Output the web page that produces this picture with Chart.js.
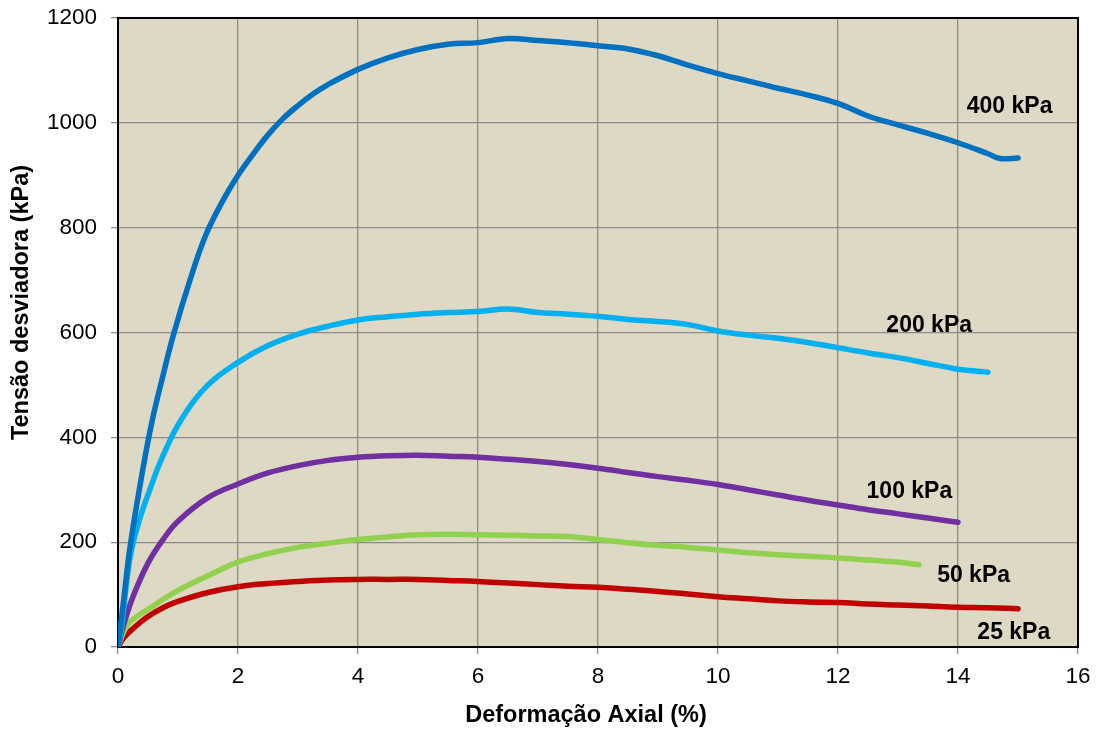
<!DOCTYPE html>
<html>
<head>
<meta charset="utf-8">
<script src="https://cdn.jsdelivr.net/npm/chart.js@4.4.1/dist/chart.umd.min.js"></script>
<style>
  html, body { margin: 0; padding: 0; background: #ffffff; }
  #wrap { width: 1100px; height: 731px; }
</style>
</head>
<body>
<div id="wrap"><canvas id="ensaio"></canvas></div>
<script>
// Triaxial test curves: axial strain (%) vs deviator stress (kPa)

const strain400 = [0, 0.1, 0.2, 0.4, 0.57, 0.75, 0.93, 1.2, 1.46, 1.75, 2, 2.25, 2.5, 2.75, 3, 3.25, 3.5, 4, 4.5, 5, 5.5, 6, 6.5, 7, 7.5, 8, 8.5, 9, 9.5, 10, 10.5, 11, 11.5, 12, 12.5, 13, 13.5, 14, 14.5, 14.7, 15];
const stress400 = [0, 95, 190, 330, 432, 518, 598, 700, 785, 852, 900, 940, 977, 1008, 1033, 1055, 1073, 1102, 1124, 1140, 1150, 1153, 1161, 1157, 1153, 1147, 1141, 1128, 1110, 1094, 1080, 1066, 1053, 1037, 1013, 996, 980, 962, 941, 932, 933];

const strain200 = [0, 0.05, 0.2, 0.35, 0.53, 0.75, 1.06, 1.5, 2, 2.5, 3, 3.5, 4, 4.5, 5, 5.5, 6, 6.5, 7, 7.5, 8, 8.5, 9, 9.5, 10, 10.5, 11, 11.5, 12, 12.5, 13, 13.5, 14, 14.5];
const stress200 = [0, 30, 170, 240, 300, 365, 435, 500, 543, 575, 597, 612, 624, 630, 635, 638, 640, 645, 638, 635, 631, 625, 621, 615, 603, 595, 589, 581, 571, 561, 552, 541, 530, 524];

const strain100 = [0, 0.1, 0.25, 0.5, 0.75, 1, 1.5, 2, 2.5, 3, 3.5, 4, 4.5, 5, 5.5, 6, 6.5, 7, 7.5, 8, 8.5, 9, 9.5, 10, 10.5, 11, 11.5, 12, 12.5, 13, 13.5, 14];
const stress100 = [0, 45, 96, 160, 205, 240, 285, 311, 332, 346, 356, 362, 365, 366, 364, 362, 358, 354, 348, 341, 333, 325, 318, 310, 300, 290, 280, 271, 262, 254, 246, 238];

const strain50 = [0, 0.1, 0.2, 0.5, 1, 1.5, 2, 2.5, 3, 3.5, 4, 4.5, 5, 5.5, 6, 6.5, 7, 7.5, 8, 8.5, 9, 9.5, 10, 10.5, 11, 11.5, 12, 12.5, 13, 13.35];
const stress50 = [0, 30, 48, 72, 108, 136, 162, 178, 190, 198, 205, 210, 214, 215, 214, 213, 212, 211, 205, 199, 194, 190, 185, 180, 176, 173, 170, 166, 162, 157];

const strain25 = [0, 0.1, 0.25, 0.5, 0.75, 1, 1.5, 2, 2.5, 3, 3.5, 4, 4.5, 5, 5.5, 6, 6.5, 7, 7.5, 8, 8.5, 9, 9.5, 10, 10.5, 11, 11.5, 12, 12.5, 13, 13.5, 14, 14.5, 15];
const stress25 = [0, 18, 35, 58, 75, 87, 104, 115, 121, 125, 128, 129, 129, 129, 127, 125, 122, 119, 116, 114, 110, 106, 101, 96, 92, 88, 86, 85, 82, 80, 78, 76, 75, 73];

const seriesNames = ['400 kPa', '200 kPa', '100 kPa', '50 kPa', '25 kPa'];
const seriesColors = ['#0070C0', '#00B0F0', '#7030A0', '#92D050', '#C00000'];

// where each confining-pressure label sits (strain %, stress kPa)
const labelAnchors = [[14.86, 1030], [13.52, 613], [13.19, 296], [14.26, 137], [14.93, 27]];

const xTicks = [0, 2, 4, 6, 8, 10, 12, 14, 16];
const yTicks = [0, 200, 400, 600, 800, 1000, 1200];

function pairs(xs, ys) {
    return xs.map((x, i) => ({ x: x, y: ys[i] }));
}

const allSeries = [
    pairs(strain400, stress400),
    pairs(strain200, stress200),
    pairs(strain100, stress100),
    pairs(strain50, stress50),
    pairs(strain25, stress25)
];

const FONT = 'Liberation Sans, Arial, sans-serif';

// ----------------- PLOT AREA BACKGROUND / FRAME -----------------

const plotFrame = {
    id: 'plotFrame',
    beforeDraw(chart) {
        const a = chart.chartArea;
        const c = chart.ctx;
        c.save();
        c.fillStyle = '#DDD9C4';
        c.fillRect(a.left, a.top, a.right - a.left, a.bottom - a.top);
        c.restore();
    },
    beforeDatasetsDraw(chart) {
        const a = chart.chartArea;
        const c = chart.ctx;
        c.save();
        c.strokeStyle = '#000000';
        c.lineWidth = 2;
        c.strokeRect(a.left, a.top, a.right - a.left, a.bottom - a.top);
        c.restore();
    }
};

// ----------------- SERIES LABELS + AXIS TITLES -----------------

const textLayer = {
    id: 'textLayer',
    afterDatasetsDraw(chart) {
        const c = chart.ctx;
        const xs = chart.scales.x;
        const ys = chart.scales.y;
        const a = chart.chartArea;
        c.save();
        c.fillStyle = '#000000';
        c.textAlign = 'center';
        c.textBaseline = 'middle';
        c.font = 'bold 23px ' + FONT;
        labelAnchors.forEach((p, i) => {
            c.fillText(seriesNames[i], xs.getPixelForValue(p[0]), ys.getPixelForValue(p[1]));
        });

        c.font = 'bold 23.5px ' + FONT;
        c.fillText('Deformação Axial (%)', (a.left + a.right) / 2 - 12, a.bottom + 69);

        c.translate(22, (a.top + a.bottom) / 2 - 30);
        c.rotate(-Math.PI / 2);
        c.fillText('Tensão desviadora (kPa)', 0, 0);
        c.restore();
    }
};

const ctx = document.getElementById('ensaio').getContext('2d');
const chart = new Chart(ctx, {
    type: 'line',
    data: {
        datasets: allSeries.map((pts, i) => ({
            label: seriesNames[i],
            data: pts,
            borderColor: seriesColors[i],
            backgroundColor: seriesColors[i],
            borderWidth: 5.5,
            pointRadius: 0,
            tension: 0.4,
            fill: false,
            borderCapStyle: 'round',
            borderJoinStyle: 'round'
        }))
    },
    options: {
        responsive: true,
        maintainAspectRatio: false,
        animation: false,
        layout: { padding: { left: 0, right: 22, top: 18, bottom: 0 } },
        plugins: {
            legend: { display: false },
            tooltip: { enabled: false }
        },
        scales: {
            x: {
                type: 'linear',
                position: 'bottom',
                min: 0,
                max: 16,
                afterBuildTicks: (s) => { s.ticks = xTicks.map(v => ({ value: v })); },
                afterFit: (s) => { s.height = 84; s.paddingLeft = 0; s.paddingRight = 0; },
                grid: {
                    color: '#8C8C8C',
                    lineWidth: 1.3,
                    tickLength: 7,
                    tickColor: '#8C8C8C'
                },
                border: { display: false },
                ticks: {
                    color: '#000000',
                    padding: 9,
                    maxRotation: 0,
                    callback: (v) => String(v),
                    font: { family: FONT, size: 22.5 }
                }
            },
            y: {
                min: 0,
                max: 1200,
                afterBuildTicks: (s) => { s.ticks = yTicks.map(v => ({ value: v })); },
                afterFit: (s) => { s.width = 118; s.paddingTop = 0; s.paddingBottom = 0; },
                grid: {
                    color: '#8C8C8C',
                    lineWidth: 1.3,
                    tickLength: 7,
                    tickColor: '#8C8C8C'
                },
                border: { display: false },
                ticks: {
                    color: '#000000',
                    padding: 14,
                    callback: (v) => String(v),
                    font: { family: FONT, size: 22.5 }
                }
            }
        }
    },
    plugins: [plotFrame, textLayer]
});
</script>
</body>
</html>
